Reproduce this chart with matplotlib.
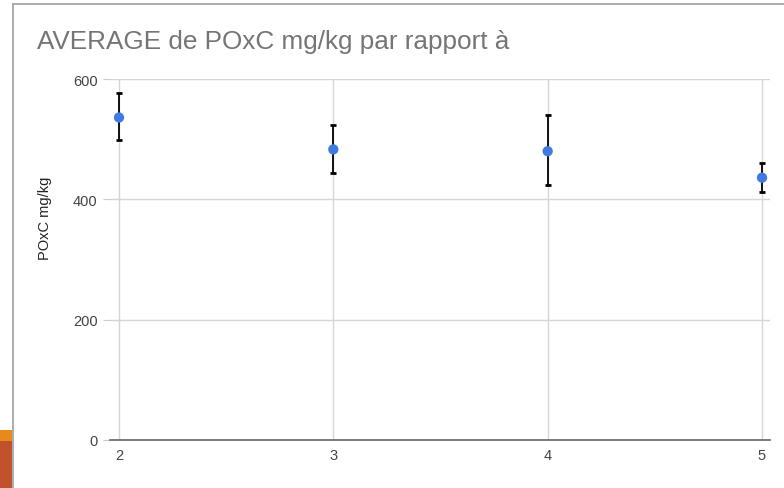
import matplotlib
matplotlib.use("Agg")
import matplotlib.pyplot as plt
from matplotlib.patches import Rectangle
from matplotlib.lines import Line2D

plt.rcParams['font.family'] = ['Liberation Sans', 'DejaVu Sans']

x_vals = [2, 3, 4, 5]
means = [536, 483, 480, 436]
err_low = [38, 40, 57, 24]
err_high = [40, 41, 60, 24]
y_ticks = [0, 200, 400, 600]
x_ticks = [2, 3, 4, 5]
title = "AVERAGE de POxC mg/kg par rapport à"
ylabel = "POxC mg/kg"

W, H = 784, 489
fig = plt.figure(figsize=(W/100, H/100), dpi=100)
fig.patch.set_facecolor("white")

# slide background fragments and chart border
fig.patches.append(Rectangle((0, 0), 12/W, (489-442)/H, transform=fig.transFigure,
                             facecolor="#C0532B", edgecolor="none", zorder=0))
fig.patches.append(Rectangle((0, (489-442)/H), 12/W, 11/H, transform=fig.transFigure,
                             facecolor="#E8891B", edgecolor="none", zorder=0))
fig.lines.append(Line2D([12.5/W, 12.5/W], [0, 1-4.5/H], transform=fig.transFigure,
                        color="#A6A6A6", lw=1.3))
fig.lines.append(Line2D([12.5/W, 1], [1-4.5/H, 1-4.5/H], transform=fig.transFigure,
                        color="#A6A6A6", lw=1.3))

left, right, top, bottom = 110, 770, 80, 441
ax = fig.add_axes([left/W, 1-bottom/H, (right-left)/W, (bottom-top)/H])
ax.set_xlim(2 - 9/214.3, 5 + 8/214.3)
ax.set_ylim(0, 600)

ax.set_yticks(y_ticks)
ax.set_xticks(x_ticks)
ax.grid(True, color="#D6D6D6", lw=1)
ax.set_axisbelow(True)
for s in ["top", "right", "left"]:
    ax.spines[s].set_visible(False)
ax.spines["bottom"].set_color("#666666")
ax.spines["bottom"].set_linewidth(1.2)
ax.tick_params(axis="y", length=5, color="#CCCCCC", labelsize=10.5, labelcolor="#444444", pad=4)
ax.tick_params(axis="x", length=0, labelsize=10.5, labelcolor="#444444", pad=6)

ax.errorbar(x_vals, means, yerr=[err_low, err_high], fmt="none", ecolor="black",
            elinewidth=1.3, capsize=2, capthick=2, zorder=3)
ax.scatter(x_vals, means, s=55, color="#3F7BE0", zorder=4, edgecolors="none")

ax.set_ylabel(ylabel, fontsize=10.5, color="#222222")
ax.yaxis.set_label_coords(-0.088, 0.618)
fig.text(37/W, 1-42/H, title, fontsize=18.8, color="#757575", va="center", ha="left")

fig.savefig("out.png", dpi=100)
